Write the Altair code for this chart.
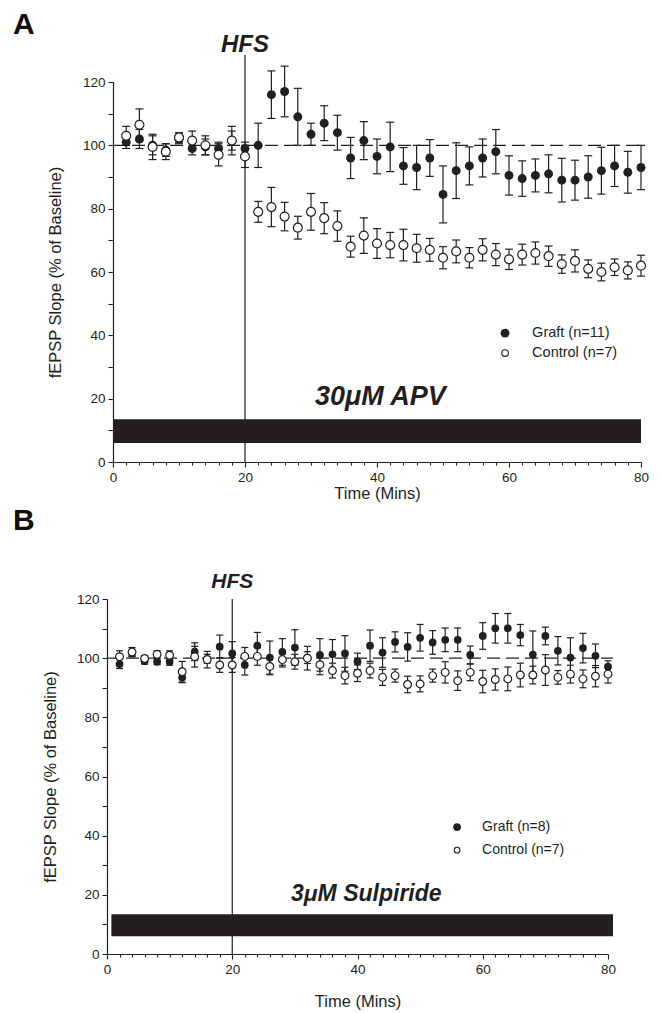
import altair as alt
import pandas as pd

FONT = "Liberation Sans"
INK = "#231f20"

# ---------------- data ----------------
times = [2, 4, 6, 8, 10, 12, 14, 16, 18, 20,
         22, 24, 26, 28, 30, 32, 34, 36, 38, 40,
         42, 44, 46, 48, 50, 52, 54, 56, 58, 60,
         62, 64, 66, 68, 70, 72, 74, 76, 78, 80]

a_graft_mean = [101, 102, 100, 98.5, 102, 99, 99.5, 99, 101.5, 99,
                100, 116, 117, 109, 103.5, 107, 104, 96, 101.5, 96.5,
                99.5, 93.5, 93, 96, 84.5, 92, 93.5, 96, 98, 90.5,
                89.5, 90.5, 91, 89, 89, 90, 92, 93.5, 91.5, 93]
a_graft_err = [2, 3, 3, 2, 1.5, 2, 2.5, 2, 3, 2,
               7, 7.5, 8, 9, 3.5, 5.5, 5.5, 6.5, 6, 5.5,
               7.8, 5.8, 7, 5.8, 9, 8.8, 6, 6, 7, 6.2,
               5.6, 5.2, 6, 6.9, 6.3, 6.7, 7.4, 6.5, 6.6, 7]
a_ctrl_mean = [103, 106.5, 99.5, 98, 102.5, 101.5, 100, 97, 101.5, 96.5,
               79, 80.5, 77.5, 74, 79, 77, 74.5, 68, 71.5, 69,
               68.5, 68.5, 67.5, 67, 64.5, 66.5, 64.5, 67, 65.5, 64,
               65.5, 66, 65, 62.5, 63.5, 61, 60, 61.5, 60.5, 62]
a_ctrl_err = [3, 5, 4, 2.5, 1.5, 3, 3, 3.5, 4.5, 3.5,
              3.3, 6.2, 4.5, 3.6, 5.8, 4.9, 4.8, 3.3, 5.6, 4.7,
              4, 5, 4.4, 3.6, 3.5, 3.6, 3.2, 3.5, 3.5, 3.2,
              3.3, 3.5, 3.2, 2.9, 3.5, 2.8, 2.8, 2.6, 2.7, 3.3]

b_graft_mean = [98, 101.5, 99, 98.8, 98.8, 93.5, 102.2, 99.8, 103.9, 101.6,
                97.7, 104.2, 100.2, 102.1, 103.6, 100.2, 101.1, 101.3, 101.6, 98.9,
                104.2, 101.9, 105.5, 103.8, 106.9, 105.3, 106.2, 106.2, 101.1, 107.5,
                110.1, 110.1, 107.8, 101.2, 107.5, 102.5, 100.2, 103.4, 100.8, 97.1]
b_graft_err = [1.5, 1, 1, 1, 1.2, 1.8, 3, 1.5, 3.9, 4,
               3.4, 4.5, 5.6, 4.5, 6, 2, 5.5, 5, 6, 2.8,
               5.3, 5, 3.4, 4.8, 4.5, 4, 4, 4, 3, 4.5,
               5, 5, 3.6, 8, 3, 4.8, 6.7, 5, 4, 2]
b_ctrl_mean = [100.5, 102.1, 99.9, 101.3, 101, 95.4, 100.5, 99.5, 97.7, 97.7,
               100.6, 100.6, 97.2, 99.5, 98.8, 100, 97.8, 95.8, 94.1, 94.9,
               95.8, 93.5, 94.1, 91.1, 91.3, 94.1, 95.2, 92.4, 95.2, 92.1,
               92.8, 93, 94.3, 94.3, 96, 93.5, 94.6, 93, 93.9, 94.6]
b_ctrl_err = [2, 1.5, 1, 1.2, 1.5, 3.5, 3.5, 2.8, 2.5, 2.5,
              3, 3, 2.8, 2.5, 2.5, 4, 3.4, 2.5, 2.8, 2.8,
              2.5, 2.7, 2.2, 2.8, 2.7, 2.2, 3.6, 3.3, 2.8, 3.8,
              3.6, 4, 4, 3, 5.2, 2.3, 3, 3, 3.6, 3]

x_tick_values = [0, 2, 4, 6, 8, 10, 12, 14, 16, 18, 20, 22, 24, 26, 28, 30, 32, 34, 36, 38, 40,
                 42, 44, 46, 48, 50, 52, 54, 56, 58, 60, 62, 64, 66, 68, 70, 72, 74, 76, 78, 80]
y_tick_values = [0, 10, 20, 30, 40, 50, 60, 70, 80, 90, 100, 110, 120]


def panel(letter, drug, g_label, c_label, g_mean, g_err, c_mean, c_err, cfg):
    w, h = cfg["w"], cfg["h"]
    xs = alt.Scale(domain=[0, 80], nice=False, zero=False, range=[cfg["x0"], w])
    ys = alt.Scale(domain=[0, 120], nice=False)
    xaxis = alt.Axis(values=x_tick_values, title="Time (Mins)", grid=False,
                     labelExpr="datum.value % 20 === 0 ? datum.label : ''",
                     labelOverlap=False, labelFlush=False,
                     tickSize={"condition": {"test": "datum.value % 20 === 0", "value": 5}, "value": 3},
                     domainColor=INK, tickColor=INK, labelColor=INK, titleColor=INK,
                     domainWidth=1.2, tickWidth=1.1,
                     labelFont=FONT, labelFontSize=cfg["lab"], titleFont=FONT,
                     titleFontSize=cfg["tit"], titleFontWeight="normal",
                     labelPadding=3, titlePadding=cfg["xtp"])
    yaxis = alt.Axis(values=y_tick_values, title="fEPSP Slope (% of Baseline)", grid=False,
                     labelExpr="datum.value % 20 === 0 ? datum.label : ''",
                     labelOverlap=False, labelFlush=False, tickSize=5, offset=-cfg["x0"],
                     domainColor=INK, tickColor=INK, labelColor=INK, titleColor=INK,
                     domainWidth=1.2, tickWidth=1.1,
                     labelFont=FONT, labelFontSize=cfg["lab"], titleFont=FONT,
                     titleFontSize=cfg["tit"], titleFontWeight="normal",
                     labelPadding=3, titlePadding=cfg["ytp"])

    def X(f):
        return alt.X(f, scale=xs, axis=xaxis)

    def Y(f):
        return alt.Y(f, scale=ys, axis=yaxis)

    df = pd.DataFrame({
        "t": times + times,
        "m": g_mean + c_mean,
        "e": g_err + c_err,
        "grp": ["Graft"] * len(times) + ["Control"] * len(times),
    })
    base = alt.Chart(df).transform_calculate(lo="datum.m - datum.e", hi="datum.m + datum.e")

    bar = alt.Chart(pd.DataFrame({"t0": [cfg["bar"][0]], "t1": [cfg["bar"][1]],
                                  "v0": [6], "v1": [cfg["bar"][2]]})).mark_rect(color=INK).encode(
        x=X("t0:Q"), x2="t1:Q", y=Y("v0:Q"), y2="v1:Q")
    hfs = alt.Chart(pd.DataFrame({"t": [20], "v0": [0], "v1": [cfg["hfs_top"]]})).mark_rule(
        color=INK, strokeWidth=1.2).encode(x=X("t:Q"), y=Y("v0:Q"), y2="v1:Q")
    basel = alt.Chart(pd.DataFrame({"t0": [0], "t1": [cfg["dash_end"]], "v": [100]})).mark_rule(
        color=INK, strokeWidth=1.1, strokeDash=[13, 6]).encode(x=X("t0:Q"), x2="t1:Q", y=Y("v:Q"))

    layers = [bar, hfs, basel]
    for grp, filled in (("Graft", True), ("Control", False)):
        b = base.transform_filter(alt.datum.grp == grp)
        layers.append(b.mark_rule(color=INK, strokeWidth=1.2).encode(x=X("t:Q"), y=Y("lo:Q"), y2="hi:Q"))
        layers.append(b.mark_tick(orient="horizontal", size=cfg["cap"], thickness=1.2, color=INK,
                                  opacity=1).encode(x=X("t:Q"), y=Y("lo:Q")))
        layers.append(b.mark_tick(orient="horizontal", size=cfg["cap"], thickness=1.2, color=INK,
                                  opacity=1).encode(x=X("t:Q"), y=Y("hi:Q")))
        if filled:
            layers.append(b.mark_circle(size=cfg["msize"], color=INK, opacity=1).encode(
                x=X("t:Q"), y=Y("m:Q")))
        else:
            layers.append(b.mark_circle(size=cfg["msize"], fill="white", stroke=INK,
                                        strokeWidth=1.2, opacity=1).encode(x=X("t:Q"), y=Y("m:Q")))

    # legend
    lg = cfg["leg"]
    layers.append(alt.Chart(pd.DataFrame({"t": [lg[0]], "v": [lg[2]]})).mark_circle(
        size=cfg["msize"], color=INK, opacity=1).encode(x=X("t:Q"), y=Y("v:Q")))
    layers.append(alt.Chart(pd.DataFrame({"t": [lg[0]], "v": [lg[3]]})).mark_circle(
        size=cfg["msize"] * 0.55, fill="white", stroke=INK, strokeWidth=1.1, opacity=1).encode(
        x=X("t:Q"), y=Y("v:Q")))
    layers.append(alt.Chart(pd.DataFrame({"t": [lg[1], lg[1]], "v": [lg[2], lg[3]],
                                          "s": [g_label, c_label]})).mark_text(
        align="left", baseline="middle", font=FONT, fontSize=cfg["legf"], color=INK).encode(
        x=X("t:Q"), y=Y("v:Q"), text="s:N"))

    # annotations
    layers.append(alt.Chart(pd.DataFrame({"t": [20], "s": ["HFS"]})).mark_text(
        align="center", baseline="alphabetic", font=FONT, fontSize=cfg["hfsf"], fontWeight="bold",
        fontStyle="italic", color=INK).encode(x=X("t:Q"), y=alt.value(cfg["hfs_y"]), text="s:N"))
    layers.append(alt.Chart(pd.DataFrame({"t": [cfg["drug_x"]], "v": [cfg["drug_y"]], "s": [drug]})).mark_text(
        align="center", baseline="alphabetic", font=FONT, fontSize=cfg["drugf"], fontWeight="bold",
        fontStyle="italic", color=INK).encode(x=X("t:Q"), y=Y("v:Q"), text="s:N"))
    layers.append(alt.Chart(pd.DataFrame({"s": [letter]})).mark_text(
        align="left", baseline="top", font=FONT, fontSize=30, fontWeight="bold",
        color="#111111").encode(x=alt.value(cfg["let_x"]), y=alt.value(cfg["let_y"]), text="s:N"))

    return alt.layer(*layers).properties(width=w, height=h)


cfg_a = dict(w=534, h=380, x0=6, lab=13.5, tit=16.5, xtp=2, ytp=19, bar=(0, 80, 13.5), hfs_top=128.5,
             dash_end=80, cap=8, msize=80, leg=(59.4, 63.5, 40.7, 34.4), legf=14.5,
             hfsf=24, hfs_y=-30, drug_x=40.5, drug_y=18, drugf=27, let_x=-94, let_y=-72)
cfg_b = dict(w=501, h=355, x0=0, lab=13.5, tit=16.5, xtp=18, ytp=18, bar=(0.7, 80.8, 13.4), hfs_top=120,
             dash_end=80.8, cap=7, msize=60, leg=(55.9, 59.9, 42.9, 35.1), legf=14,
             hfsf=21, hfs_y=-11, drug_x=41.4, drug_y=18, drugf=23, let_x=-94, let_y=-93)

chart_a = panel("A", "30μM APV", "Graft (n=11)", "Control (n=7)",
                a_graft_mean, a_graft_err, a_ctrl_mean, a_ctrl_err, cfg_a)
chart_b = panel("B", "3μM Sulpiride", "Graft (n=8)", "Control (n=7)",
                b_graft_mean, b_graft_err, b_ctrl_mean, b_ctrl_err, cfg_b)

chart = alt.concat(chart_a, chart_b, columns=1, spacing=4).properties(
    padding={"left": 5, "top": 2, "right": 5, "bottom": 5}
).configure_view(stroke="transparent", strokeWidth=0)

chart.save("out.html", embed_options={"renderer": "svg", "actions": False})
